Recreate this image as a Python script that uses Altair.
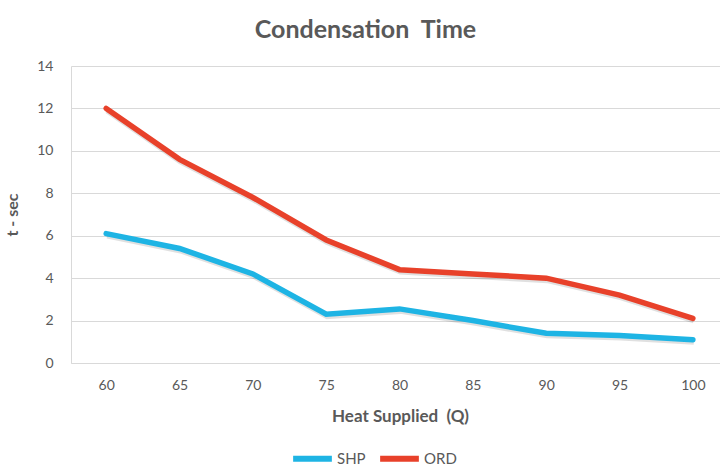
import altair as alt
import pandas as pd

heat = [60, 65, 70, 75, 80, 85, 90, 95, 100]
shp = [6.1, 5.4, 4.2, 2.3, 2.55, 2.0, 1.4, 1.3, 1.1]
ord_ = [12.0, 9.6, 7.8, 5.8, 4.4, 4.2, 4.0, 3.2, 2.1]

series = ["SHP", "ORD"]
colors = ["#1eb4e4", "#e8412a"]

df = pd.concat([
    pd.DataFrame({"Q": heat, "t": shp, "series": "SHP"}),
    pd.DataFrame({"Q": heat, "t": ord_, "series": "ORD"}),
])

FONT = "Lato"
GREY = "#595959"

x = alt.X(
    "Q:Q",
    scale=alt.Scale(domain=[57.6, 101.85], nice=False, zero=False),
    axis=alt.Axis(
        values=heat, title="Heat Supplied\u00a0 (Q)", grid=False, ticks=False,
        domain=True, domainColor="#d9d9d9", labelFontSize=14, labelColor=GREY,
        labelFont=FONT, labelPadding=15, titleFont=FONT, titleFontSize=17,
        titleColor=GREY, titleFontWeight="bold", titlePadding=16, titleX=329,
    ),
)
y = alt.Y(
    "t:Q",
    scale=alt.Scale(domain=[0, 14], nice=False),
    axis=alt.Axis(
        values=list(range(0, 15, 2)), title="t - sec", grid=True,
        gridColor="#d9d9d9", ticks=False, domain=True, domainColor="#d9d9d9",
        labelFontSize=14, labelColor=GREY, labelFont=FONT, labelPadding=18,
        titleFont=FONT, titleFontSize=16, titleColor=GREY,
        titleFontWeight="bold", titlePadding=16,
    ),
)

shadow = alt.Chart(df).mark_line(
    strokeWidth=6, color="#000000", opacity=0.12, yOffset=2, xOffset=1
).encode(x=x, y=y, detail="series:N")

lines = alt.Chart(df).mark_line(strokeWidth=5.5, strokeCap="round").encode(
    x=x,
    y=y,
    color=alt.Color(
        "series:N",
        scale=alt.Scale(domain=series, range=colors),
        legend=alt.Legend(
            title=None, orient="none", direction="horizontal",
            legendX=219, legendY=370, symbolType="stroke",
            symbolStrokeWidth=6, symbolSize=1500, labelFontSize=15,
            labelFont=FONT, labelColor=GREY, columnPadding=2, labelOffset=2,
        ),
    ),
)

chart = (
    alt.layer(shadow, lines)
    .properties(
        width=649,
        height=297,
        autosize=alt.AutoSizeParams(type="none"),
        padding={"left": 71, "top": 66, "right": 0, "bottom": 105},
        title=alt.TitleParams(
            "Condensation\u00a0 Time", fontSize=25, font=FONT, fontWeight="bold",
            color=GREY, anchor="middle", dx=-30, offset=16,
        ),
    )
    .configure_view(stroke=None)
)

chart.save("out.html", embed_options={"renderer": "svg", "actions": False})
